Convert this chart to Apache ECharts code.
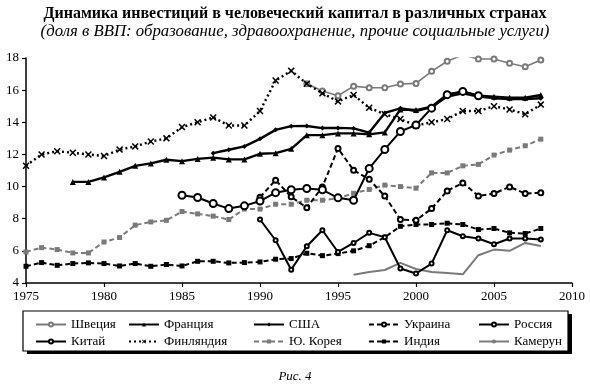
<!DOCTYPE html>
<html><head><meta charset="utf-8">
<script src="https://cdn.jsdelivr.net/npm/echarts@6/dist/echarts.min.js"></script>
<style>html,body{margin:0;padding:0;background:#fff}#c{width:590px;height:386px}</style>
</head><body><div id="c"></div>
<script>
// ---- data ----
const titleText = 'Динамика инвестиций в человеческий капитал в различных странах';
const subtitleText = '(доля в ВВП: образование, здравоохранение, прочие социальные услуги)';
const captionText = 'Рис. 4';
const yTicks = [4, 6, 8, 10, 12, 14, 16, 18];
const xTicks = [1975, 1980, 1985, 1990, 1995, 2000, 2005, 2010];

const swedenStart = 1993;
const sweden = [16.4, 15.95, 15.65, 16.25, 16.15, 16.15, 16.38, 16.42, 17.17, 17.8, 18.19, 17.94, 17.94, 17.67, 17.46, 17.88];
const franceStart = 1978;
const france = [10.29, 10.29, 10.57, 10.92, 11.29, 11.44, 11.67, 11.58, 11.72, 11.8, 11.69, 11.69, 12.04, 12.08, 12.35, 13.2, 13.2, 13.31, 13.31, 13.25, 13.37, 14.8, 14.76, 14.97, 15.74, 15.9, 15.65, 15.59, 15.53, 15.53, 15.7];
const usaStart = 1987;
const usa = [12.08, 12.29, 12.5, 12.97, 13.53, 13.76, 13.77, 13.64, 13.65, 13.62, 13.36, 14.58, 14.87, 14.7, 14.95, 15.6, 15.8, 15.6, 15.5, 15.45, 15.45, 15.5];
const ukraineStart = 1990;
const ukraine = [9.34, 10.4, 9.36, 8.68, 9.98, 12.37, 11.02, 10.45, 9.41, 7.95, 7.9, 8.63, 9.73, 10.23, 9.42, 9.57, 9.98, 9.57, 9.61];
const russiaStart = 1990;
const russia = [7.95, 6.66, 4.83, 6.29, 7.28, 5.93, 6.49, 7.12, 6.85, 4.9, 4.59, 5.21, 7.28, 6.91, 6.77, 6.41, 6.77, 6.77, 6.7];
const chinaStart = 1985;
const china = [9.46, 9.32, 8.95, 8.63, 8.8, 9.1, 9.62, 9.8, 9.88, 9.8, 9.3, 9.15, 11.13, 12.31, 13.43, 13.83, 14.88, 15.72, 15.92, 15.65];
const finlandStart = 1975;
const finland = [11.3, 12.0, 12.2, 12.1, 12.0, 11.9, 12.3, 12.5, 12.8, 13.0, 13.7, 14.0, 14.3, 13.8, 13.8, 14.7, 16.6, 17.2, 16.4, 15.8, 15.3, 15.7, 14.9, 14.5, 14.2, 13.8, 14.0, 14.2, 14.7, 14.7, 15.0, 14.8, 14.5, 15.1];
const koreaStart = 1975;
const korea = [5.93, 6.2, 6.08, 5.87, 5.87, 6.55, 6.83, 7.6, 7.8, 7.9, 8.45, 8.3, 8.16, 7.95, 8.6, 8.6, 8.9, 8.9, 9.15, 9.15, 9.28, 9.58, 9.82, 10.09, 10.0, 9.9, 10.85, 10.85, 11.29, 11.38, 11.96, 12.27, 12.54, 12.95];
const indiaStart = 1975;
const india = [5.04, 5.27, 5.1, 5.21, 5.25, 5.21, 5.06, 5.21, 5.04, 5.15, 5.06, 5.35, 5.35, 5.25, 5.27, 5.31, 5.48, 5.52, 5.85, 5.7, 5.83, 6.0, 6.32, 6.85, 7.53, 7.64, 7.64, 7.72, 7.64, 7.33, 7.39, 7.12, 7.08, 7.39];
const cameroonStart = 1996;
const cameroon = [4.52, 4.69, 4.81, 5.25, 4.87, 4.69, 4.62, 4.54, 5.73, 6.08, 6.0, 6.49, 6.3];

const names = ['Швеция', 'Франция', 'США', 'Украина', 'Россия', 'Китай', 'Финляндия', 'Ю. Корея', 'Индия', 'Камерун'];

function pairs(start, arr) { return arr.map((v, i) => [start + i, v]); }

const SERIF = '"Liberation Serif", "DejaVu Serif", serif';
const GRAY = '#7a7a7a';
const crossPath = 'path://M0,1.5L1.5,0L5,3.5L8.5,0L10,1.5L6.5,5L10,8.5L8.5,10L5,6.5L1.5,10L0,8.5L3.5,5Z';

const series = [
  { name: names[0], data: pairs(swedenStart, sweden), symbol: 'emptyCircle', symbolSize: 5,
    lineStyle: { color: GRAY, width: 1.6 }, itemStyle: { color: GRAY, borderWidth: 1.2 }, z: 3 },
  { name: names[1], data: pairs(franceStart, france), symbol: 'triangle', symbolSize: 6,
    lineStyle: { color: '#000', width: 2.4 }, itemStyle: { color: '#000' }, z: 5 },
  { name: names[2], data: pairs(usaStart, usa), symbol: 'diamond', symbolSize: 5,
    lineStyle: { color: '#000', width: 2.4 }, itemStyle: { color: '#000' }, z: 5 },
  { name: names[3], data: pairs(ukraineStart, ukraine), symbol: 'emptyCircle', symbolSize: 5,
    lineStyle: { color: '#000', width: 2, type: [5, 3] }, itemStyle: { color: '#000', borderWidth: 1.2 }, z: 4 },
  { name: names[4], data: pairs(russiaStart, russia), symbol: 'emptyCircle', symbolSize: 4,
    lineStyle: { color: '#000', width: 2 }, itemStyle: { color: '#000', borderWidth: 1.2 }, z: 4 },
  { name: names[5], data: pairs(chinaStart, china), symbol: 'emptyCircle', symbolSize: 7,
    lineStyle: { color: '#000', width: 2 }, itemStyle: { color: '#000', borderWidth: 1.6 }, z: 6 },
  { name: names[6], data: pairs(finlandStart, finland), symbol: crossPath, symbolSize: 7,
    lineStyle: { color: '#000', width: 2.4, type: [2, 3] }, itemStyle: { color: '#000' }, z: 4 },
  { name: names[7], data: pairs(koreaStart, korea), symbol: 'rect', symbolSize: 5,
    lineStyle: { color: GRAY, width: 2, type: [5, 3] }, itemStyle: { color: GRAY }, z: 3 },
  { name: names[8], data: pairs(indiaStart, india), symbol: 'rect', symbolSize: 5,
    lineStyle: { color: '#000', width: 2, type: [5, 3] }, itemStyle: { color: '#000' }, z: 3 },
  { name: names[9], data: pairs(cameroonStart, cameroon), symbol: 'none',
    lineStyle: { color: GRAY, width: 2 }, itemStyle: { color: GRAY }, z: 2 }
].map(s => Object.assign({ type: 'line', showSymbol: s.symbol !== 'none', animation: false, emphasis: { disabled: true } }, s));

const legendCols = [30, 123, 248, 363, 473];
const legends = legendCols.map((left, i) => ({
  orient: 'vertical', left: left, top: 313, itemGap: 4,
  itemWidth: 30, itemHeight: 5,
  data: [names[i], names[i + 5]],
  textStyle: { fontFamily: SERIF, fontSize: 13, color: '#000' },
  selectedMode: false
}));

const chart = echarts.init(document.getElementById('c'), null, { renderer: 'canvas' });
chart.setOption({
  backgroundColor: '#fff',
  animation: false,
  title: [
    { text: titleText, left: 'center', top: 1,
      textStyle: { fontFamily: SERIF, fontSize: 16, fontWeight: 'bold', color: '#000' } },
    { text: subtitleText, left: 'center', top: 18,
      textStyle: { fontFamily: SERIF, fontSize: 16.8, fontStyle: 'italic', fontWeight: 'normal', color: '#000' } },
    { text: captionText, left: 'center', top: 365,
      textStyle: { fontFamily: SERIF, fontSize: 13, fontStyle: 'italic', fontWeight: 'normal', color: '#000' } }
  ],
  legend: legends,
  grid: { left: 26, right: 18, top: 58, bottom: 103 },
  xAxis: {
    type: 'value', min: xTicks[0], max: xTicks[xTicks.length - 1], interval: 5,
    axisLine: { lineStyle: { color: '#000', width: 1.5 } },
    axisTick: { show: true, length: 4, lineStyle: { color: '#000', width: 1.2 } },
    axisLabel: { fontFamily: SERIF, fontSize: 13, color: '#000', margin: 7, formatter: v => String(v) },
    splitLine: { show: false }
  },
  yAxis: {
    type: 'value', min: yTicks[0], max: yTicks[yTicks.length - 1], interval: 2,
    axisLine: { show: true, lineStyle: { color: '#000', width: 1.5 } },
    axisTick: { show: true, length: 4, lineStyle: { color: '#000', width: 1.2 } },
    axisLabel: { fontFamily: SERIF, fontSize: 13, color: '#000', margin: 7 },
    splitLine: { show: false }
  },
  graphic: [
    { type: 'rect', z: -10, shape: { x: 27, y: 314, width: 545, height: 40 }, style: { fill: '#000' } },
    { type: 'rect', z: -9, shape: { x: 23, y: 311, width: 545, height: 40 }, style: { fill: '#fff', stroke: '#000', lineWidth: 1.2 } }
  ],
  series: series
});
</script></body></html>
